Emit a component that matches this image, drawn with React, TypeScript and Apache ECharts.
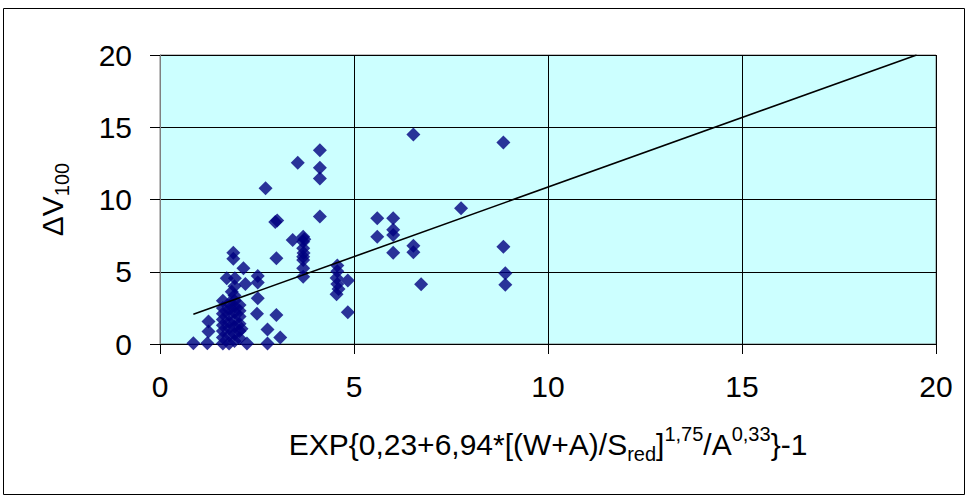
import React, { useEffect, useRef } from "react";
import * as echarts from "echarts";

// x / y tick values
const xTicks = [0, 5, 10, 15, 20];
const yTicks = [0, 5, 10, 15, 20];

// Scatter points [x, y]
const denseCluster: number[][] = [
  [1.62, 0.03], [1.62, 0.45], [1.62, 0.9], [1.62, 1.3], [1.62, 1.7], [1.62, 2.1], [1.62, 2.5], [1.62, 3.0],
  [1.78, 0.03], [1.78, 0.6], [1.78, 1.1], [1.78, 1.5], [1.78, 2.0], [1.78, 2.4], [1.78, 2.8],
  [1.92, 0.2], [1.92, 0.7], [1.92, 1.2], [1.92, 1.65], [1.92, 2.2], [1.92, 2.6], [1.92, 3.0], [1.92, 3.35], [1.92, 4.0],
  [2.05, 0.4], [2.05, 0.9], [2.05, 1.4], [2.05, 1.9], [2.05, 2.3], [2.05, 2.7],
];

const lowCluster: number[][] = [
  [1.89, 6.32], [1.89, 5.9], [2.15, 5.24], [1.72, 4.55], [1.93, 4.55], [2.2, 4.15],
  [2.52, 4.7], [2.52, 4.25], [1.85, 3.62], [2.52, 3.16], [2.5, 2.1], [3.0, 2.0],
  [2.77, 1.0], [3.1, 0.45], [2.77, 0.03], [2.24, 0.03], [0.86, 0.05], [1.22, 0.05],
  [1.25, 1.55], [1.25, 0.86], [2.1, 1.05], [3.0, 5.93],
];

const upperLeft: number[][] = [
  [4.12, 13.4], [3.55, 12.55], [4.12, 12.2], [4.12, 11.45], [2.72, 10.77],
  [2.97, 8.45], [3.02, 8.55], [4.12, 8.83], [3.42, 7.2],
  [3.69, 7.43], [3.72, 7.25], [3.69, 7.08], [3.69, 6.62], [3.7, 6.3], [3.69, 6.04],
  [3.69, 5.81], [3.69, 5.24], [3.69, 4.66],
];

const middleColumn: number[][] = [
  [4.57, 5.44], [4.57, 5.03], [4.55, 4.56], [4.57, 4.15], [4.6, 3.8], [4.55, 3.45],
  [4.84, 4.4], [4.84, 2.2],
];

const rightGroup: number[][] = [
  [5.6, 8.7], [6.01, 8.7], [5.6, 7.43], [6.01, 7.9], [6.01, 7.55], [6.53, 6.8],
  [6.53, 6.35], [6.01, 6.32], [6.73, 4.13], [7.76, 9.39], [6.53, 14.5],
  [8.85, 13.95], [8.85, 6.73], [8.9, 4.89], [8.9, 4.1],
];

// Trend line end points
const trendLine: number[][] = [
  [0.86, 2.06],
  [19.5, 20.0],
];

const FONT = "'Liberation Sans', Arial, sans-serif";

export default function App() {
  const ref = useRef<HTMLDivElement>(null);

  useEffect(() => {
    if (!ref.current) return;
    const chart = echarts.init(ref.current, undefined, { renderer: "svg" });
    const points = [...denseCluster, ...lowCluster, ...upperLeft, ...middleColumn, ...rightGroup];

    chart.setOption({
      animation: false,
      backgroundColor: "#ffffff",
      textStyle: { fontFamily: FONT },
      graphic: [
        {
          type: "rect",
          shape: { x: 3.5, y: 8.5, width: 961, height: 486 },
          style: { fill: "none", stroke: "#000", lineWidth: 1 },
          silent: true,
        },
      ],
      grid: {
        left: 160,
        right: 32,
        top: 55,
        bottom: 154,
        show: true,
        backgroundColor: "#CCFFFF",
        borderColor: "#808080",
        borderWidth: 1,
      },
      xAxis: {
        type: "value",
        min: xTicks[0],
        max: xTicks[xTicks.length - 1],
        interval: 5,
        name: "{m|EXP{0,23+6,94*[(W+A)/S}{sub|red}{m|]}{sup|1,75}{m|/A}{sup|0,33}}-1",
        nameLocation: "middle",
        nameGap: 80,
        nameTextStyle: {
          fontSize: 30,
          fontFamily: FONT,
          color: "#000",
          lineHeight: 40,
          rich: {
            m: { fontSize: 30, fontFamily: FONT, color: "#000", lineHeight: 40 },
            sub: { fontSize: 20, fontFamily: FONT, color: "#000", lineHeight: 20, verticalAlign: "bottom" },
            sup: { fontSize: 20, fontFamily: FONT, color: "#000", lineHeight: 20, verticalAlign: "top" },
          },
        },
        axisLine: { show: true, onZero: false, lineStyle: { color: "#000", width: 1 } },
        axisTick: { show: true, inside: false, length: 10, lineStyle: { color: "#000" } },
        axisLabel: { fontSize: 30, fontFamily: FONT, color: "#000", margin: 27 },
        splitLine: { show: true, lineStyle: { color: "#000", width: 1 } },
      },
      yAxis: {
        type: "value",
        min: yTicks[0],
        max: yTicks[yTicks.length - 1],
        interval: 5,
        name: "{m|ΔV}{sub|100}",
        nameLocation: "middle",
        nameGap: 88,
        nameRotate: 90,
        nameTextStyle: {
          rich: {
            m: { fontSize: 30, fontFamily: FONT, color: "#000", lineHeight: 40 },
            sub: { fontSize: 20, fontFamily: FONT, color: "#000", lineHeight: 20, verticalAlign: "bottom" },
          },
        },
        axisLine: { show: true, onZero: false, lineStyle: { color: "#808080", width: 1 } },
        axisTick: { show: true, inside: false, length: 10, lineStyle: { color: "#000" } },
        axisLabel: { fontSize: 30, fontFamily: FONT, color: "#000", margin: 28 },
        splitLine: { show: true, lineStyle: { color: "#000", width: 1 } },
      },
      series: [
        {
          type: "scatter",
          data: points,
          symbol: "diamond",
          symbolSize: 14,
          itemStyle: { color: "#000080" },
          z: 3,
        },
        {
          type: "line",
          data: trendLine,
          showSymbol: false,
          symbol: "none",
          lineStyle: { color: "#000", width: 1.6 },
          z: 4,
        },
      ],
    });

    return () => chart.dispose();
  }, []);

  return (
    <div
      ref={ref}
      style={{ position: "fixed", left: 0, top: 0, width: 968, height: 498, background: "#fff" }}
    />
  );
}
